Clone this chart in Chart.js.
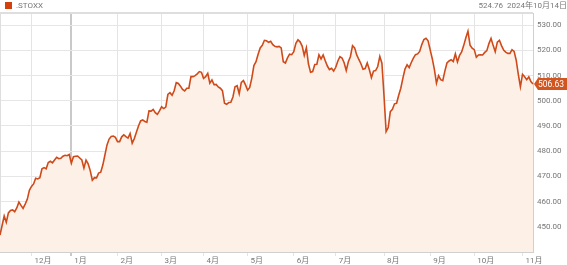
<!DOCTYPE html>
<html>
<head>
<meta charset="utf-8">
<script src="https://cdn.jsdelivr.net/npm/chart.js@4/dist/chart.umd.min.js"></script>
<style>
html,body{margin:0;padding:0;background:#fff;}
#wrap{width:567px;height:265px;position:relative;}
</style>
</head>
<body>
<div id="wrap"><canvas id="c" width="567" height="265"></canvas></div>
<script>
// ---- data ----
const seriesName = '.STOXX';
const monthLabels = ['11月','12月','1月','2月','3月','4月','5月','6月','7月','8月','9月','10月','11月'];
const tradingDaysPerMonth = [15,19,22,21,20,21,22,20,23,22,21,23,6];
const stoxxValues = [
  446.7,450.5,454.3,451.8,455.5,456.5,456.7,456.0,457.5,459.8,458.5,457.3,459.0,460.9,464.5,
  466.0,467.0,469.3,469.0,469.5,473.0,473.5,473.0,475.5,476.0,475.4,476.5,477.6,477.0,477.2,478.0,478.4,478.2,478.7,
  475.2,477.8,478.0,478.1,477.3,476.5,473.3,476.5,475.0,472.3,468.5,469.5,469.4,471.3,471.7,474.5,478.5,482.5,484.8,485.8,486.0,485.5,
  483.8,483.8,485.7,486.5,485.8,485.2,487.0,483.2,485.0,487.5,490.0,492.0,492.4,491.8,491.5,496.0,495.9,496.6,495.3,494.6,496.0,
  497.6,496.9,497.5,502.5,503.2,502.2,504.0,507.2,506.9,505.8,504.5,503.9,505.0,505.0,509.6,509.6,510.0,510.7,511.6,511.3,
  508.9,509.6,510.9,507.0,508.3,506.4,506.5,505.5,505.0,504.0,499.0,498.6,499.3,499.4,501.5,505.6,506.0,502.8,507.3,508.0,506.3,
  504.2,505.3,509.0,514.0,515.5,518.5,521.0,522.0,524.0,523.8,523.2,523.6,522.3,521.6,521.4,521.6,521.0,515.5,515.0,517.0,518.5,518.3,
  519.5,522.8,524.2,523.4,521.7,518.0,521.0,514.6,511.3,511.6,514.4,514.5,518.2,516.6,518.2,515.9,513.8,512.4,512.9,511.8,
  513.3,515.8,517.5,517.0,515.1,512.0,515.5,517.6,521.9,521.0,518.2,516.4,514.7,512.5,512.8,515.0,512.4,509.2,511.8,512.0,513.6,517.6,514.9,
  502.0,487.8,489.4,495.7,496.6,498.8,499.0,502.2,505.0,509.0,512.6,514.3,513.2,515.2,516.9,518.3,518.6,519.6,522.3,524.3,524.8,523.8,
  520.2,516.7,512.5,507.0,510.0,508.4,508.0,511.8,515.0,515.8,516.3,515.6,518.6,515.4,518.0,519.4,522.0,525.0,527.6,522.1,520.9,
  520.3,517.3,518.2,518.3,518.2,519.2,519.9,522.7,524.76,522.0,519.5,523.3,524.0,521.9,520.1,519.3,518.8,518.8,520.3,519.6,516.1,510.5,505.6,
  510.5,509.5,508.4,509.5,507.6,506.63
];
const yTickValues = [450,460,470,480,490,500,510,520,530];
const headerValue = '524.76';
const headerDate = '2024年10月14日';

// ---- build categories from the month table ----
const categories = [];
const monthStartIndex = {};
let idx = 0;
tradingDaysPerMonth.forEach((n, m) => {
  if (m > 0) monthStartIndex[idx] = monthLabels[m];
  for (let d = 0; d < n; d++) { categories.push(monthLabels[m] + ' #' + (d + 1)); idx++; }
});
const monthTicks = Object.keys(monthStartIndex).map(Number);
const yearStartTick = monthTicks[1]; // 1月

const FONT = 'Roboto, "Noto Sans CJK SC", sans-serif';
const LINE = '#cf4a1a';

const framePlugin = {
  id: 'frame',
  beforeDatasetsDraw(chart) {
    const {ctx, chartArea: a} = chart;
    ctx.save();
    ctx.strokeStyle = '#dedede';
    ctx.lineWidth = 2;
    ctx.beginPath(); ctx.moveTo(a.left, a.top); ctx.lineTo(a.right, a.top); ctx.stroke();
    ctx.lineWidth = 1;
    ctx.beginPath(); ctx.moveTo(a.left + 0.5, a.top); ctx.lineTo(a.left + 0.5, a.bottom); ctx.stroke();
    ctx.restore();
  },
  afterDraw(chart) {
    const {ctx, chartArea: a, scales} = chart;
    ctx.save();
    // legend
    ctx.fillStyle = '#d2400c';
    ctx.fillRect(5, 2, 7, 7);
    ctx.fillStyle = '#777';
    ctx.font = '8px ' + FONT;
    ctx.textBaseline = 'middle';
    ctx.textAlign = 'left';
    ctx.fillText(seriesName, 16, 6);
    // header right
    ctx.font = '8px ' + FONT;
    ctx.textAlign = 'right';
    ctx.fillText(headerDate, 567, 6);
    const w = ctx.measureText(headerDate).width;
    ctx.fillText(headerValue, 567 - w - 4, 6);
    // last value tag
    const last = stoxxValues[stoxxValues.length - 1];
    const y = scales.y.getPixelForValue(last);
    const x0 = a.right + 1;
    ctx.fillStyle = '#d2541e';
    ctx.beginPath();
    ctx.moveTo(x0, y);
    ctx.lineTo(x0 + 4, y - 6);
    ctx.lineTo(567, y - 6);
    ctx.lineTo(567, y + 6);
    ctx.lineTo(x0 + 4, y + 6);
    ctx.closePath();
    ctx.fill();
    ctx.fillStyle = '#fff';
    ctx.font = '8.5px ' + FONT;
    ctx.textAlign = 'left';
    ctx.fillText(last.toFixed(2), x0 + 4, y + 0.5);
    ctx.restore();
  }
};

new Chart(document.getElementById('c'), {
  type: 'line',
  data: {
    labels: categories,
    datasets: [{
      label: seriesName,
      data: stoxxValues,
      borderColor: LINE,
      borderWidth: 1.6,
      backgroundColor: '#fdf0e6',
      fill: 'start',
      pointRadius: 0,
      tension: 0
    }]
  },
  options: {
    responsive: false,
    animation: false,
    layout: {padding: {top: 13, left: 0, right: 0, bottom: 0}},
    plugins: {legend: {display: false}, tooltip: {enabled: false}},
    scales: {
      x: {
        type: 'category',
        offset: false,
        afterBuildTicks(s) { s.ticks = monthTicks.map(v => ({value: v})); },
        afterFit(s) { s.height = 13; },
        ticks: {
          autoSkip: false, maxRotation: 0, minRotation: 0,
          align: 'start', labelOffset: 3, padding: 0,
          color: '#777', font: {family: FONT, size: 8},
          callback: (v) => monthStartIndex[v] || ''
        },
        grid: {
          color: (c) => (c.tick && c.tick.value === yearStartTick) ? '#c9c9c9' : '#e4e4e4',
          lineWidth: (c) => (c.tick && c.tick.value === yearStartTick) ? 2 : 1,
          tickLength: 4,
          drawOnChartArea: true
        },
        border: {display: true, color: '#d0d0d0', width: 2}
      },
      y: {
        position: 'right',
        min: 440,
        max: 534.84,
        afterBuildTicks(s) { s.ticks = yTickValues.map(v => ({value: v})); },
        afterFit(s) { s.width = 34; },
        ticks: {
          color: '#777', font: {family: FONT, size: 8}, padding: 4,
          callback: (v) => Number(v).toFixed(2)
        },
        grid: {color: '#e6e6e6', lineWidth: 1, drawTicks: false},
        border: {display: true, color: '#d0d0d0', width: 1}
      }
    }
  },
  plugins: [framePlugin]
});
</script>
</body>
</html>
